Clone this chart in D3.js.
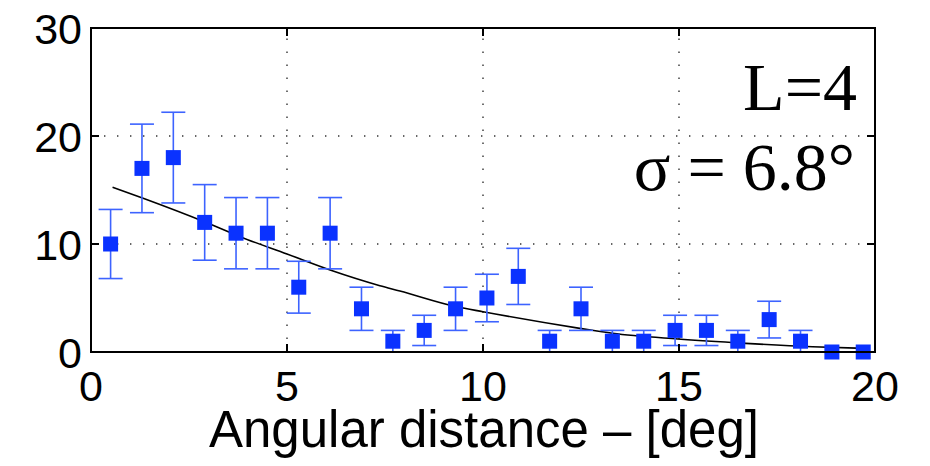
<!DOCTYPE html>
<html>
<head>
<meta charset="utf-8">
<script src="https://cdn.jsdelivr.net/npm/d3@7"></script>
<style>
  body { margin: 0; background: #fff; }
  svg { display: block; }
</style>
</head>
<body>
<svg id="chart" width="930" height="466"></svg>
<script>
// angular bins (deg), counts and their error bars
const binCenters = [0.5, 1.3, 2.1, 2.9, 3.7, 4.5, 5.3, 6.1, 6.9, 7.7, 8.5, 9.3, 10.1,
                    10.9, 11.7, 12.5, 13.3, 14.1, 14.9, 15.7, 16.5, 17.3, 18.1, 18.9, 19.7];
const counts = [10, 17, 18, 12, 11, 11, 6, 11, 4, 1, 2, 4, 5, 7, 1, 4, 1, 1, 2, 2, 1, 3, 1, 0, 0];
const errors = [3.2, 4.1, 4.2, 3.5, 3.3, 3.3, 2.4, 3.3, 2, 1, 1.4, 2, 2.2, 2.6, 1, 2, 1, 1,
                1.4, 1.4, 1, 1.7, 1, 0, 0];

// fitted curve
const fitX = [0.55, 1.33, 2.95, 3.8, 5.0, 6.1, 7.37, 7.88, 9.33, 10, 12.47, 13.3, 14.97, 16.7, 18.4, 19.7];
const fitY = [15.25, 14.23, 11.97, 10.68, 9.07, 7.59, 6.14, 5.65, 4.19, 3.73, 2.19, 1.73, 1.2, 0.8, 0.49, 0.34];

const xTicks = [0, 5, 10, 15, 20];
const yTicks = [0, 10, 20, 30];
const xLabel = "Angular distance \u2013 [deg]";
const labelL = "L=4";
const labelSigma = "\u03c3 = 6.8\u00b0";

const svg = d3.select("#chart");
const plotL = 91, plotR = 875, plotT = 28, plotB = 352;

const x = d3.scaleLinear().domain([0, 20]).range([plotL, plotR]);
const y = d3.scaleLinear().domain([0, 30]).range([plotB, plotT]);

// dotted grid
const grid = svg.append("g")
    .attr("stroke", "#333")
    .attr("stroke-width", 1.4)
    .attr("stroke-dasharray", "1.4,11.6");
grid.selectAll("line.gx")
    .data(xTicks.slice(1, -1))
    .enter().append("line")
    .attr("x1", d => x(d)).attr("x2", d => x(d))
    .attr("y1", plotB).attr("y2", plotT);
grid.selectAll("line.gy")
    .data(yTicks.slice(1, -1))
    .enter().append("line")
    .attr("x1", plotL).attr("x2", plotR)
    .attr("y1", d => y(d)).attr("y2", d => y(d));

// fit line
const points = fitX.map((d, i) => [d, fitY[i]]);
svg.append("path")
    .datum(points)
    .attr("fill", "none")
    .attr("stroke", "#000")
    .attr("stroke-width", 1.6)
    .attr("d", d3.line().x(d => x(d[0])).y(d => y(d[1])).curve(d3.curveMonotoneX));

// error bars
const data = binCenters.map((d, i) => ({x: d, v: counts[i], e: errors[i]}));
const eb = svg.append("g")
    .attr("stroke", "#3d63ff")
    .attr("stroke-width", 1.6);
const capW = 12;
data.filter(d => d.e > 0).forEach(d => {
    eb.append("line")
        .attr("x1", x(d.x)).attr("x2", x(d.x))
        .attr("y1", y(d.v - d.e)).attr("y2", y(d.v + d.e));
    eb.append("line")
        .attr("x1", x(d.x) - capW).attr("x2", x(d.x) + capW)
        .attr("y1", y(d.v + d.e)).attr("y2", y(d.v + d.e));
    eb.append("line")
        .attr("x1", x(d.x) - capW).attr("x2", x(d.x) + capW)
        .attr("y1", y(d.v - d.e)).attr("y2", y(d.v - d.e));
});

// square markers
const sz = 15;
svg.selectAll("rect.marker")
    .data(data)
    .enter().append("rect")
    .attr("class", "marker")
    .attr("x", d => x(d.x) - sz / 2)
    .attr("y", d => y(d.v) - sz / 2)
    .attr("width", sz).attr("height", sz)
    .attr("fill", "#0a32ff");

// box + inward ticks
const frame = svg.append("g").attr("stroke", "#000").attr("stroke-width", 2).attr("fill", "none");
frame.append("rect")
    .attr("x", plotL).attr("y", plotT)
    .attr("width", plotR - plotL).attr("height", plotB - plotT);
const tl = 8;
xTicks.forEach(t => {
    frame.append("line").attr("x1", x(t)).attr("x2", x(t)).attr("y1", plotB).attr("y2", plotB - tl);
    frame.append("line").attr("x1", x(t)).attr("x2", x(t)).attr("y1", plotT).attr("y2", plotT + tl);
});
yTicks.forEach(t => {
    frame.append("line").attr("x1", plotL).attr("x2", plotL + tl).attr("y1", y(t)).attr("y2", y(t));
    frame.append("line").attr("x1", plotR).attr("x2", plotR - tl).attr("y1", y(t)).attr("y2", y(t));
});

// tick labels
const sans = "Liberation Sans, Arial, Helvetica, sans-serif";
svg.selectAll("text.xt")
    .data(xTicks)
    .enter().append("text")
    .attr("x", d => x(d)).attr("y", 401)
    .attr("text-anchor", "middle")
    .attr("font-family", sans).attr("font-size", 43)
    .text(d => d);
svg.selectAll("text.yt")
    .data(yTicks)
    .enter().append("text")
    .attr("x", 82).attr("y", d => y(d) + 16)
    .attr("text-anchor", "end")
    .attr("font-family", sans).attr("font-size", 43)
    .text(d => d);

svg.append("text")
    .attr("x", 484).attr("y", 447)
    .attr("text-anchor", "middle")
    .attr("font-family", sans).attr("font-size", 51)
    .text(xLabel);

const serif = "Liberation Serif, Times New Roman, serif";
svg.append("text")
    .attr("x", 857).attr("y", 110)
    .attr("text-anchor", "end")
    .attr("font-family", serif).attr("font-size", 68)
    .text(labelL);
svg.append("text")
    .attr("x", 855).attr("y", 190)
    .attr("text-anchor", "end")
    .attr("font-family", serif).attr("font-size", 68)
    .text(labelSigma);
</script>
</body>
</html>
